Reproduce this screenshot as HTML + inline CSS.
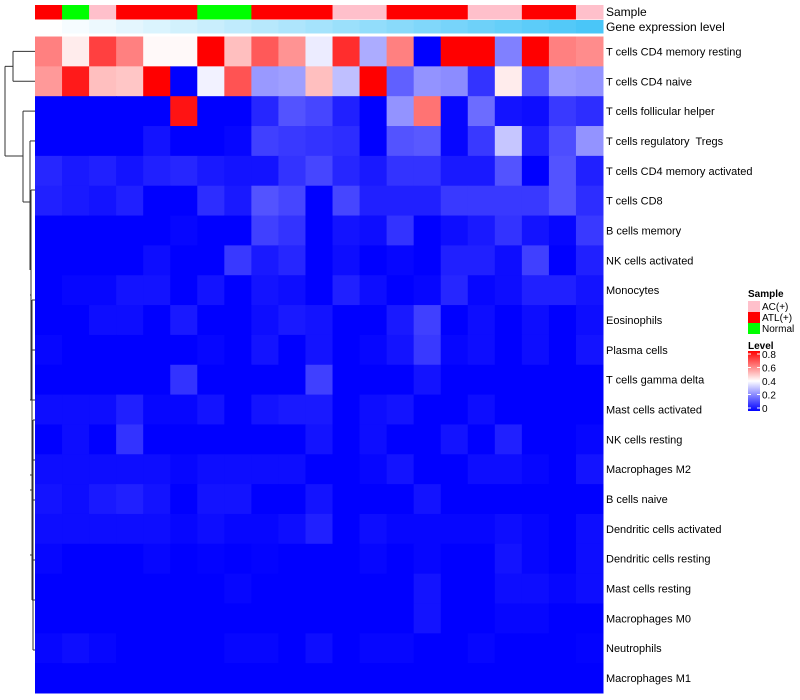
<!DOCTYPE html>
<html><head><meta charset="utf-8">
<style>
body{margin:0;background:#fff;}
svg{display:block;font-family:"Liberation Sans",sans-serif;}
text{white-space:pre;}
</style></head>
<body>
<svg id="chart" width="800" height="700"></svg>
<script>
const rowLabels=["T cells CD4 memory resting","T cells CD4 naive","T cells follicular helper","T cells regulatory  Tregs","T cells CD4 memory activated","T cells CD8","B cells memory","NK cells activated","Monocytes","Eosinophils","Plasma cells","T cells gamma delta","Mast cells activated","NK cells resting","Macrophages M2","B cells naive","Dendritic cells activated","Dendritic cells resting","Mast cells resting","Macrophages M0","Neutrophils","Macrophages M1"];
const sampleGroups=["ATL(+)","Normal","AC(+)","ATL(+)","ATL(+)","ATL(+)","Normal","Normal","ATL(+)","ATL(+)","ATL(+)","AC(+)","AC(+)","ATL(+)","ATL(+)","ATL(+)","AC(+)","AC(+)","ATL(+)","ATL(+)","AC(+)"];
const values=[
[0.6,0.43,0.7,0.6,0.41,0.41,0.8,0.5,0.66,0.57,0.37,0.73,0.27,0.6,0,0.8,0.8,0.2,0.8,0.6,0.58],
[0.56,0.76,0.5,0.49,0.8,0,0.38,0.67,0.24,0.25,0.5,0.3,0.8,0.15,0.23,0.22,0.08,0.43,0.13,0.24,0.23],
[0,0,0,0,0,0.77,0,0,0.06,0.13,0.11,0.05,0,0.23,0.62,0.01,0.17,0.03,0.02,0.09,0.07],
[0,0,0,0,0.03,0,0,0.01,0.1,0.09,0.08,0.07,0,0.13,0.14,0.01,0.09,0.31,0.05,0.12,0.23],
[0.06,0.04,0.05,0.03,0.05,0.06,0.04,0.03,0.03,0.08,0.11,0.06,0.04,0.08,0.08,0.04,0.04,0.13,0,0.13,0.05],
[0.05,0.04,0.03,0.05,0,0,0.07,0.04,0.13,0.11,0,0.11,0.05,0.05,0.05,0.09,0.09,0.09,0.09,0.13,0.07],
[0,0,0,0,0,0.01,0,0,0.1,0.08,0,0.03,0.02,0.08,0,0.02,0.04,0.08,0.03,0.01,0.09],
[0,0,0,0,0.02,0,0,0.09,0.04,0.06,0,0.02,0,0.01,0,0.05,0.05,0.02,0.1,0,0.05],
[0,0.01,0.01,0.03,0.03,0,0.03,0,0.03,0.02,0,0.05,0.02,0,0.01,0.06,0.01,0.02,0.05,0.05,0.03],
[0,0,0.02,0.02,0,0.04,0,0,0.02,0.04,0.03,0,0,0.04,0.1,0,0.02,0,0.02,0,0.02],
[0.01,0,0,0,0,0,0.01,0,0.03,0,0.03,0,0.01,0.03,0.09,0.01,0.02,0,0.02,0,0.03],
[0,0,0,0,0,0.08,0,0,0,0,0.1,0,0,0,0.03,0,0,0,0,0,0],
[0.02,0.02,0.02,0.05,0.01,0.01,0.03,0,0.03,0.04,0.04,0,0.02,0.03,0,0,0.02,0,0,0,0],
[0,0.02,0,0.08,0,0,0,0,0,0,0.03,0,0.02,0,0,0.03,0,0.05,0,0,0.01],
[0.02,0.02,0.02,0.02,0.02,0.01,0.02,0.02,0.02,0.02,0,0,0.01,0.03,0,0,0.02,0.02,0.01,0,0.03],
[0.03,0.02,0.04,0.05,0.03,0,0.03,0.03,0,0,0.03,0,0,0,0.03,0,0,0,0,0,0],
[0.02,0.02,0.02,0.02,0.02,0.01,0.02,0.01,0.01,0.02,0.05,0,0.02,0.01,0.01,0.01,0.01,0.02,0.01,0,0.02],
[0.01,0,0,0,0.01,0,0.005,0,0.005,0,0,0,0.01,0,0.01,0,0,0.03,0.01,0,0.02],
[0,0,0,0,0,0,0,0.01,0,0,0,0,0,0,0.03,0,0,0.02,0.02,0.01,0.02],
[0,0,0,0,0,0,0,0,0,0,0,0,0,0,0.03,0,0,0.01,0.01,0,0],
[0.01,0.02,0.01,0,0,0,0,0.01,0.01,0,0.02,0,0.01,0.01,0,0,0.01,0,0,0,0.005],
[0,0,0,0,0,0,0,0,0,0,0,0,0,0,0,0,0,0,0,0,0]
];
const legendTicks=[0,0.2,0.4,0.6,0.8];
const sampleColors={"AC(+)":"#ffc0cb","ATL(+)":"#ff0000","Normal":"#00ff00"};

const NS="http://www.w3.org/2000/svg";
const svg=document.getElementById('chart');
function mk(tag,attrs,parent){const e=document.createElementNS(NS,tag);for(const k in attrs)e.setAttribute(k,attrs[k]);(parent||svg).appendChild(e);return e;}
const X0=35,X1=603,Y0=36.5,Y1=693;
const nC=values[0].length,nR=values.length;
const cw=(X1-X0)/nC,rh=(Y1-Y0)/nR;
const xPos=c=>X0+c*cw, yPos=r=>Y0+r*rh;
function colorOf(v){
  const mid=0.4,max=0.8;
  let r,g,b;
  if(v<=mid){const t=Math.max(0,v/mid);r=Math.round(255*t);g=Math.round(255*t);b=255;}
  else{const t=Math.min(1,(v-mid)/(max-mid));r=255;g=Math.round(255*(1-t));b=Math.round(255*(1-t));}
  return `rgb(${r},${g},${b})`;
}
sampleGroups.forEach((s,c)=>{
  const e=mk('rect',{x:xPos(c),y:5,width:cw+0.5,height:14.5,fill:sampleColors[s]});
  
  
});
for(let c=0;c<nC;c++){
  const t=c/(nC-1);
  const r=Math.round(255+(74-255)*t),g=Math.round(255+(198-255)*t),b=Math.round(255+(248-255)*t);
  const e=mk('rect',{x:xPos(c),y:20,width:cw+0.5,height:13.5,fill:`rgb(${r},${g},${b})`});
  
  
}
let t1=mk('text',{x:606,y:16,'font-size':12});t1.textContent="Sample";

let t2=mk('text',{x:606,y:31,'font-size':12});t2.textContent="Gene expression level";

values.forEach((row,r)=>{
  row.forEach((v,c)=>{
    const e=mk('rect',{x:xPos(c),y:yPos(r),width:cw+0.5,height:rh+0.5,fill:colorOf(v)});
    
    
  });
  const t=mk('text',{x:606,y:yPos(r)+rh/2+4,'font-size':11});
  t.textContent=rowLabels[r];
  
  
});
const yc=r=>yPos(r)+rh/2;
const dg=mk('g',{stroke:'#333','stroke-width':1,fill:'none'});

function seg(x1,y1,x2,y2){mk('line',{x1,y1,x2,y2},dg);}
seg(35,yc(0),13,yc(0));seg(35,yc(1),13,yc(1));seg(13,yc(0),13,yc(1));
const ya=(yc(0)+yc(1))/2;
seg(13,ya,5,ya);
seg(35,yc(2),23,yc(2));
let yl=202;
seg(23,yc(2),23,yl);
seg(23,yl,30,yl);
seg(5,ya,5,156);seg(5,156,23,156);
seg(30,yc(3),35,yc(3));seg(30,yc(3),30,270);
let prev=30;
const steps=[[31,190,400],[32,300,500],[32,350,600],[33,420,560],[33,460,650]];
steps.forEach(s=>{seg(s[0],s[1],s[0],s[2]);seg(prev,(s[1]+s[2])/2,s[0],(s[1]+s[2])/2);seg(s[0],s[1],35,s[1]);seg(s[0],s[2],35,s[2]);});
const lg=mk('g',{});

let lt=mk('text',{x:748,y:297,'font-size':10,'font-weight':'bold'},lg);lt.textContent="Sample";

["AC(+)","ATL(+)","Normal"].forEach((k,i)=>{
  const r=mk('rect',{x:748,y:301+i*11,width:12,height:11,fill:sampleColors[k]},lg);
  
  const t=mk('text',{x:762,y:310+i*11,'font-size':10},lg);t.textContent=k;
  
});
let lv=mk('text',{x:748,y:349,'font-size':10,'font-weight':'bold'},lg);lv.textContent="Level";

const defs=mk('defs',{});
const grad=mk('linearGradient',{id:'lvl',x1:0,y1:1,x2:0,y2:0},defs);
mk('stop',{offset:'0%','stop-color':'#0000ff'},grad);
mk('stop',{offset:'50%','stop-color':'#ffffff'},grad);
mk('stop',{offset:'100%','stop-color':'#ff0000'},grad);
const ly=v=>408-v*67.5;
const cb=mk('rect',{x:748,y:ly(0.8)-3,width:12,height:ly(0)-ly(0.8)+6,fill:'url(#lvl)'},lg);

legendTicks.forEach(v=>{
  mk('line',{x1:748,x2:751,y1:ly(v),y2:ly(v),stroke:'#fff'},lg);
  mk('line',{x1:757,x2:760,y1:ly(v),y2:ly(v),stroke:'#fff'},lg);
  const t=mk('text',{x:762,y:ly(v)+4,'font-size':10},lg);t.textContent=String(v);
  
});
</script>
</body></html>
